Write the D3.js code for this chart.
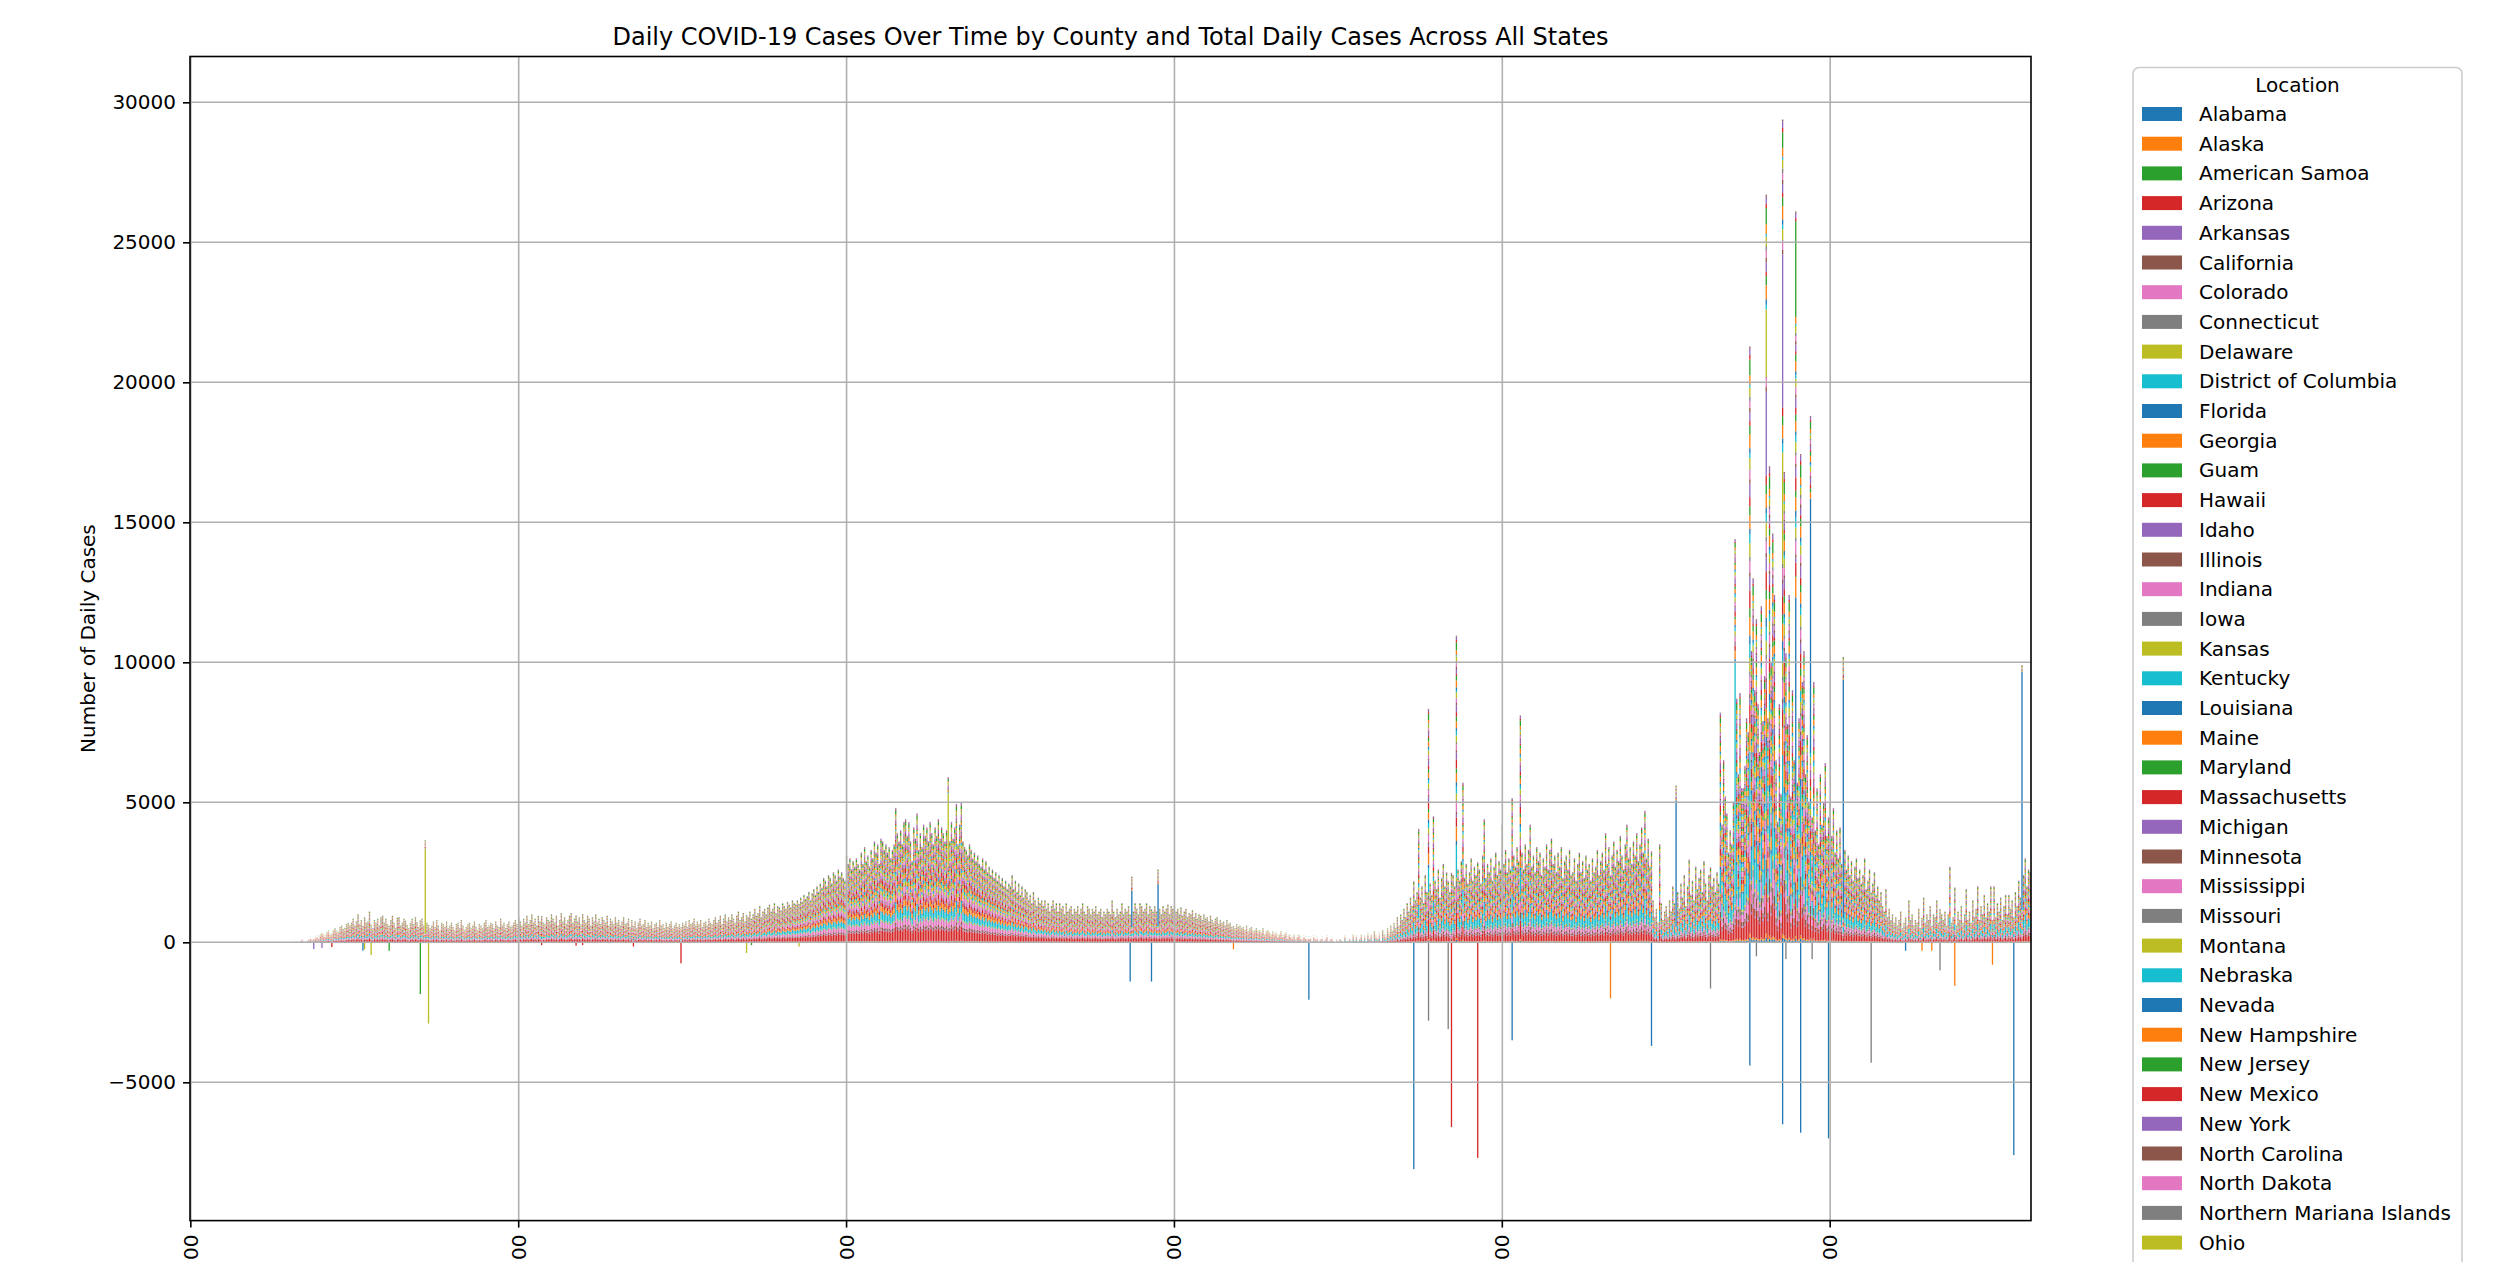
<!DOCTYPE html>
<html><head><meta charset="utf-8">
<script src="https://cdn.jsdelivr.net/npm/d3@7"></script>
<style>body{margin:0;background:#fff} svg{display:block} text{font-family:"DejaVu Sans",sans-serif;fill:#000}</style>
</head><body><svg id="chart" width="2500" height="1262"></svg>
<script>
// ---------------- DATA ----------------
const states = ["Alabama","Alaska","American Samoa","Arizona","Arkansas","California","Colorado","Connecticut","Delaware","District of Columbia","Florida","Georgia","Guam","Hawaii","Idaho","Illinois","Indiana","Iowa","Kansas","Kentucky","Louisiana","Maine","Maryland","Massachusetts","Michigan","Minnesota","Mississippi","Missouri","Montana","Nebraska","Nevada","New Hampshire","New Jersey","New Mexico","New York","North Carolina","North Dakota","Northern Mariana Islands","Ohio","Oklahoma","Oregon","Pennsylvania","Puerto Rico","Rhode Island","South Carolina","South Dakota","Tennessee","Texas","Utah","Vermont","Virgin Islands","Virginia","Washington","West Virginia","Wisconsin","Wyoming"];
// typical share of each state in a day's positive total
const stateSharesEarly = [0.01,0.005,0.001,0.13,0.01,0.03,0.07,0.01,0.012,0.09,
0.015,0.06,0.003,0.05,0.02,0.01,0.06,0.01,0.04,0.025,
0.015,0.04,0.015,0.05,0.03,0.01,0.03,0.008,0.03,0.015,
0.01,0.03,0.015,0.02,0.025,0.008,0.02,0.002,0.025,0.008,
0.01,0.025,0.015,0.01,0.02,0.008,0.015,0.008,0.02,0.004,
0.002,0.015,0.035,0.008,0.015,0.004];
const stateSharesLate = [0.01,0.008,0.001,0.11,0.01,0.04,0.06,0.03,0.015,0.14,
0.02,0.06,0.003,0.04,0.015,0.01,0.04,0.01,0.03,0.03,
0.02,0.04,0.02,0.04,0.03,0.01,0.025,0.01,0.03,0.02,
0.012,0.03,0.02,0.02,0.03,0.01,0.02,0.002,0.025,0.01,
0.012,0.03,0.02,0.01,0.02,0.01,0.015,0.01,0.02,0.005,
0.002,0.02,0.035,0.01,0.015,0.004];
const sharesSwitchDay = 700;
const dateStart = "2020-01-21";
const dayCount = 1123;
const tickEvery = 200;
const yTicks = [-5000,0,5000,10000,15000,20000,25000,30000];

// daily positive totals (all states), 100 days per array
const dailyTotals0 = [
0,0,0,0,0,0,0,0,0,0,
0,0,0,0,0,0,0,0,0,0,
0,0,0,0,0,0,0,0,0,0,
0,0,0,0,0,0,0,5,0,0,
10,0,5,0,0,10,20,0,10,15,
0,20,30,10,20,40,30,20,50,40,
60,50,80,60,100,90,70,120,150,100,
80,130,160,200,140,180,220,250,200,300,
350,280,260,380,420,300,350,450,500,420,
380,550,600,480,520,650,700,600,700,850];
const dailyTotals1 = [
600,750,1000,650,800,600,900,700,750,1100,
650,500,800,700,850,600,900,950,700,850,
650,600,800,950,700,500,880,900,600,700,
850,780,620,500,700,850,650,900,720,550,
800,850,600,3650,700,650,500,600,750,550,
800,600,450,700,650,550,750,500,600,700,
550,450,650,700,500,800,600,450,550,650,
700,500,600,750,550,450,650,600,500,700,
800,550,600,700,650,500,750,600,550,850,
600,700,500,650,750,550,600,700,800,650];
const dailyTotals2 = [
900,750,600,850,700,950,650,800,1000,700,
850,600,950,750,1050,700,650,900,800,750,
1000,850,700,950,600,800,1050,750,900,650,
800,950,1050,700,850,1000,750,900,650,1050,
800,700,950,850,600,900,750,1000,700,850,
650,900,800,700,950,600,850,750,650,900,
700,800,600,750,900,650,700,850,550,800,
650,750,500,700,850,600,650,800,550,700,
600,750,500,650,700,550,800,600,650,500,
700,550,650,750,500,600,700,550,650,600];
const dailyTotals3 = [
700,600,750,550,800,650,700,850,600,750,
650,800,550,700,750,600,850,700,650,800,
900,700,800,950,650,850,1000,750,900,800,
1000,850,700,950,1100,800,900,1050,750,1000,
900,1100,850,1000,1200,950,1050,1300,900,1100,
1200,1000,1250,1350,1100,1200,1400,1050,1300,1250,
1150,1400,1300,1200,1450,1350,1250,1500,1400,1350,
1500,1400,1600,1450,1700,1550,1650,1800,1500,1750,
1900,1700,2000,1800,2100,1950,2300,2200,2000,2400,
2300,2100,2500,2400,2200,2600,2350,2500,2300,2200];
const dailyTotals4 = [
3100,2800,3000,2600,2900,2700,3000,2800,2600,3200,
2800,3400,2900,3100,2700,3300,3000,3600,3200,3500,
2800,3700,3600,3300,3500,3200,3400,3000,3300,3500,
4800,3900,3600,4000,3500,4300,4400,3800,4300,3600,
2900,4100,3700,4600,3300,3900,3400,4200,3800,4100,
3600,4300,3900,3500,4100,3800,4400,3700,4100,3900,
3600,4000,5900,3600,4300,3700,4100,4940,3500,4200,
4990,3600,3400,3300,3100,3500,3300,3000,3200,2900,
3100,2800,2700,3000,2600,2900,2500,2700,2400,2600,
2300,2500,2200,2400,2100,2300,2000,2200,1900,2100];
const dailyTotals5 = [
2000,2400,1900,2200,1800,2100,1700,2000,1600,1900,
1800,1500,1700,1400,1800,1500,1300,1600,1400,1500,
1300,1500,1200,1400,1100,1300,1500,1200,1400,1100,
1400,1200,1300,1000,1400,1100,1200,1300,1000,1200,
1100,1300,1000,1200,1400,1100,1000,1300,1200,1000,
1200,1100,1300,1000,1100,1200,900,1100,1000,1200,
1100,1000,1500,1100,900,1200,1000,1100,1400,1000,
1200,1100,1300,1000,2350,1100,1400,1200,1000,1400,
1300,1100,1200,1400,1000,1300,1200,1100,1300,1100,
2600,1200,1000,1300,1100,1200,1350,1000,1300,1200];
const dailyTotals6 = [
1300,1100,1200,1000,1250,950,1100,1200,900,1050,
1000,1150,900,1050,850,1000,950,800,1000,850,
900,750,950,800,700,850,900,650,800,700,
750,600,800,650,700,550,600,500,650,550,
600,500,550,450,600,400,500,550,400,450,
500,400,450,350,500,300,400,450,350,300,
400,300,350,250,300,400,250,300,350,200,
300,250,200,300,150,250,300,200,150,250,
200,150,2300,200,100,250,150,200,100,150,
200,100,150,250,100,150,200,100,50,150];
const dailyTotals7 = [
100,200,150,50,250,100,150,200,100,300,
150,250,100,200,300,150,250,100,350,200,
300,150,400,250,200,350,150,450,300,250,
500,350,600,400,700,500,900,600,1000,800,
1200,900,1400,1100,1600,1300,2200,1500,1800,4050,
1600,2000,1400,2400,1800,8400,2100,1700,4500,2200,
1900,2600,1600,2300,2800,2000,2500,2200,1800,2700,
2400,2000,10950,2600,2200,2900,5700,2300,2800,2100,
2500,3000,2200,2700,2400,2900,2600,2100,3100,4400,
2300,2800,2500,3000,2200,2700,3200,2400,2900,2600];
const dailyTotals8 = [
4200,2800,3300,2500,3000,2600,5200,3100,2700,3400,
2900,8100,3200,2600,3500,2800,3300,4200,2700,3100,
2500,3400,2900,3200,2400,3000,2700,3500,2600,3300,
3700,2800,3100,2500,3200,2700,3400,2300,2900,3100,
2600,3300,2400,2500,3000,2200,2800,3200,2500,2900,
2300,3100,2600,2800,2200,3000,2500,2700,3300,2400,
2900,3200,2600,3900,2800,3400,2500,3100,3600,2700,
3300,2900,3800,3100,2600,3500,4200,3000,3400,2800,
3600,3100,3900,2900,3500,4100,3200,4700,3000,3700,
2700,3300,1500,900,1200,700,3500,1400,800,1100];
const dailyTotals9 = [
1300,900,1500,1100,2000,1400,5600,1800,1200,2100,
1600,2400,1300,2000,2950,1700,2200,1500,2700,1900,
2300,2600,1800,2900,2100,1500,2400,2700,2000,2300,
1800,2500,2100,8200,4200,6500,5200,4600,3200,4000,
3500,5000,14400,8700,6000,8900,5500,5500,6300,8000,
7500,21600,10400,13000,9000,11800,8500,6800,12000,7900,
9500,26700,8000,17000,10000,14600,12400,6500,4300,8500,
5300,29700,16800,10400,7800,12400,5200,9000,6500,26100,
5700,8000,17700,9300,10400,6000,7400,5000,18800,4500,
9300,4000,5500,3500,6000,4200,5000,6400,3800,4500];
const dailyTotals10 = [
5000,3800,4800,3200,4000,3000,4100,2800,10200,3300,
2600,3100,2400,2900,2200,2700,3000,2300,2600,2100,
2400,3000,1900,2200,2600,1800,2100,2500,1700,2000,
1500,1800,1300,1100,1900,900,1200,800,1000,700,
900,600,800,1100,500,700,900,600,1500,800,
1000,600,800,700,1200,500,900,1600,700,1000,
800,1300,600,1000,900,1500,700,1200,1000,800,
1100,600,1000,2700,700,900,2000,600,1100,800,
1300,700,1000,1900,800,1100,700,1500,900,1200,
2000,800,1300,1000,1700,900,1400,1100,2000,800];
const dailyTotals11 = [
2000,900,1400,1100,1600,800,1300,1700,1000,1700,
1200,1500,900,1800,1300,2200,1600,9900,2400,3000,
2000,2600,2500];

// single-state spikes that stand out in colour: [day index, state, cases]
const stateSpikes = [
[143,"Kansas",3000],[462,"Ohio",2500],[574,"Louisiana",1300],[590,"Louisiana",1500],
[682,"Florida",2100],[906,"Louisiana",4500],[942,"District of Columbia",8000],
[961,"New York",2500],[961,"Ohio",2000],[971,"New York",5000],[971,"Montana",3500],
[979,"Florida",7000],[979,"Washington",3000],[988,"Nevada",9000],[1008,"Louisiana",8500],
[1117,"Oregon",8500]];
// negative corrections: [day index, state, cases]
const stateNegatives = [
[75,"Arkansas",-240],[80,"Idaho",-200],[86,"Arizona",-170],[105,"Alabama",-300],[106,"Delaware",-250],
[110,"Kansas",-450],[121,"Maryland",-300],[140,"Maryland",-1850],[145,"Kansas",-2900],
[214,"Arizona",-100],[235,"Hawaii",-120],[239,"Massachusetts",-100],[270,"Arizona",-150],
[299,"Arizona",-750],[339,"Montana",-380],[342,"Guam",-100],[371,"Utah",-150],
[573,"Florida",-1400],[586,"Louisiana",-1400],[636,"Maine",-250],[682,"Florida",-2050],
[746,"Oregon",-8100],[755,"Texas",-2800],[767,"Missouri",-3100],[769,"Arizona",-6600],
[785,"New Mexico",-7700],[806,"Nevada",-3500],[866,"Georgia",-2000],[891,"Louisiana",-3700],
[927,"Texas",-1650],[951,"Florida",-4400],[955,"Connecticut",-500],[971,"Florida",-6500],
[973,"Iowa",-600],[982,"Louisiana",-6800],[989,"Texas",-600],[999,"Nevada",-7000],
[1025,"Missouri",-4300],[1046,"Alabama",-300],[1056,"Maine",-300],[1062,"Pennsylvania",-300],
[1067,"Texas",-1000],[1076,"Pennsylvania",-1550],[1099,"Virginia",-800],[1112,"Oregon",-7600]];

// ---------------- CHART ----------------
const W = 2500, H = 1262;
const M = {left:190, right:2031, top:56.5, bottom:1220.6};
const svg = d3.select("#chart");
svg.append("rect").attr("width",W).attr("height",H).attr("fill","#fff");

const start = d3.timeParse("%Y-%m-%d")(dateStart);
const dates = d3.range(dayCount).map(i => d3.timeDay.offset(start, i));
const fmt = d3.timeFormat("%Y-%m-%d %H:%M:%S");

const chunks = [dailyTotals0,dailyTotals1,dailyTotals2,dailyTotals3,dailyTotals4,dailyTotals5,dailyTotals6,dailyTotals7,dailyTotals8,dailyTotals9,dailyTotals10,dailyTotals11];
const totals = [];
chunks.forEach((c,k) => { const len = Math.min(100, dayCount - k*100); for (let i=0;i<len;i++) totals.push(c[i] || 0); });

const sumEarly = d3.sum(stateSharesEarly), sumLate = d3.sum(stateSharesLate);
const rows = dates.map((d,i) => { const r = {i}; states.forEach(s => r[s] = 0); return r; });
const spikeSum = new Array(dayCount).fill(0);
stateSpikes.forEach(([d,s,v]) => { rows[d][s] += v; spikeSum[d] += v; });
rows.forEach((r,i) => {
  const base = Math.max(0, totals[i] - spikeSum[i]);
  const sh = i < sharesSwitchDay ? stateSharesEarly : stateSharesLate;
  const sm = i < sharesSwitchDay ? sumEarly : sumLate;
  states.forEach((s,j) => { r[s] += base * sh[j] / sm; });
});
stateNegatives.forEach(([d,s,v]) => { rows[d][s] = v; });

const series = d3.stack().keys(states).offset(d3.stackOffsetDiverging)(rows);
const color = d3.scaleOrdinal().domain(states).range(d3.schemeCategory10);

const x = d3.scaleBand().domain(d3.range(dayCount)).range([M.left, M.right]).paddingInner(0.2).paddingOuter(0.1);
const y = d3.scaleLinear().domain([-9939, 31636]).range([M.bottom, M.top]);

svg.append("clipPath").attr("id","clip").append("rect")
  .attr("x",M.left).attr("y",M.top).attr("width",M.right-M.left).attr("height",M.bottom-M.top);

const gBars = svg.append("g").attr("clip-path","url(#clip)");
series.forEach(ser => {
  const data = ser.filter(d => Math.abs(y(d[0]) - y(d[1])) >= 0.15);
  gBars.append("g").attr("fill", color(ser.key))
    .selectAll("rect").data(data).join("rect")
    .attr("x", d => x(d.data.i))
    .attr("width", x.bandwidth())
    .attr("y", d => y(Math.max(d[0], d[1])))
    .attr("height", d => Math.abs(y(d[0]) - y(d[1])));
});

// grid (drawn above bars as in matplotlib)
const xTickVals = d3.range(0, dayCount, tickEvery);
const gGrid = svg.append("g").attr("stroke","#b0b0b0").attr("stroke-width",1.6);
gGrid.selectAll("line.gy").data(yTicks).join("line").attr("class","gy")
  .attr("x1",M.left).attr("x2",M.right).attr("y1",d=>y(d)).attr("y2",d=>y(d));
gGrid.selectAll("line.gx").data(xTickVals).join("line").attr("class","gx")
  .attr("x1",d=>x(d)+x.bandwidth()/2).attr("x2",d=>x(d)+x.bandwidth()/2).attr("y1",M.top).attr("y2",M.bottom);

// axes
const yAxis = d3.axisLeft(y).tickValues(yTicks)
  .tickFormat(v => v < 0 ? "\u2212" + Math.abs(v) : String(v)).tickSize(7).tickPadding(7);
const gy = svg.append("g").attr("transform",`translate(${M.left},0)`).call(yAxis);
gy.select(".domain").remove();
gy.selectAll(".tick line").attr("stroke","#000").attr("stroke-width",1.6);
gy.selectAll(".tick text").attr("font-size",20).attr("font-family","DejaVu Sans").attr("fill","#000");

const xAxis = d3.axisBottom(x).tickValues(xTickVals).tickFormat(i => fmt(dates[i])).tickSize(7).tickPadding(7);
const gx = svg.append("g").attr("transform",`translate(0,${M.bottom})`).call(xAxis);
gx.select(".domain").remove();
gx.selectAll(".tick line").attr("stroke","#000").attr("stroke-width",1.6);
gx.selectAll(".tick text").attr("font-size",20).attr("font-family","DejaVu Sans").attr("fill","#000")
  .attr("transform","rotate(-90)").attr("text-anchor","end").attr("x",-14).attr("y",0).attr("dy","0.35em");

// spines
svg.append("rect").attr("x",M.left).attr("y",M.top).attr("width",M.right-M.left).attr("height",M.bottom-M.top)
  .attr("fill","none").attr("stroke","#000").attr("stroke-width",1.6);

// title & labels
svg.append("text").attr("x",(M.left+M.right)/2).attr("y",45).attr("text-anchor","middle")
  .attr("font-size",24).text("Daily COVID-19 Cases Over Time by County and Total Daily Cases Across All States");
svg.append("text").attr("transform",`translate(95,${(M.top+M.bottom)/2}) rotate(-90)`).attr("text-anchor","middle")
  .attr("font-size",20).text("Number of Daily Cases");

// legend (entries below the bottom edge of the figure fall outside the picture, as in the reference)
const L = {x:2133, y:67.5, w:329, row:29.7};
const gL = svg.append("g");
gL.append("rect").attr("x",L.x).attr("y",L.y).attr("width",L.w).attr("height",states.length*L.row+60)
  .attr("rx",6).attr("fill","#fff").attr("fill-opacity",0.8).attr("stroke","#cccccc").attr("stroke-width",1.6);
gL.append("text").attr("x",L.x+L.w/2).attr("y",92).attr("text-anchor","middle").attr("font-size",20).text("Location");
const visibleItems = states.filter((s,i) => 121 + i*L.row <= H);
const items = gL.selectAll("g.item").data(visibleItems).join("g").attr("class","item")
  .attr("transform",(d,i)=>`translate(0,${i*L.row})`);
items.append("rect").attr("x",2142).attr("y",107).attr("width",40).attr("height",14).attr("fill",d=>color(d));
items.append("text").attr("x",2199).attr("y",121).attr("font-size",20).text(d=>d);
</script></body></html>
